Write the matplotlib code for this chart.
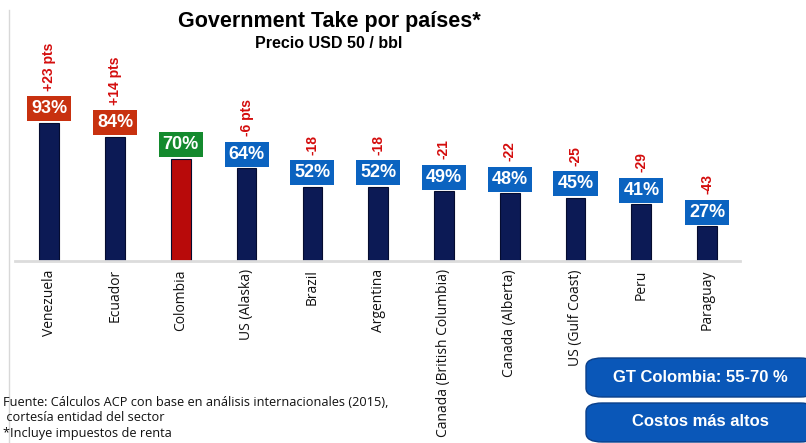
import matplotlib.pyplot as plt
from matplotlib.patches import FancyBboxPatch
from matplotlib.lines import Line2D

paises = ['Venezuela', 'Ecuador', 'Colombia', 'US (Alaska)', 'Brazil', 'Argentina',
          'Canada (British Columbia)', 'Canada (Alberta)', 'US (Gulf Coast)', 'Peru', 'Paraguay']
gt = [93, 84, 70, 64, 52, 52, 49, 48, 45, 41, 27]
dif = ['+23 pts', '+14 pts', '', '-6 pts', '-18', '-18', '-21', '-22', '-25', '-29', '-43']
caja = ['#c8310f', '#c8310f', '#148a2e'] + ['#0b63c0'] * 8
barra = ['#0c1a55', '#0c1a55', '#b80a0a'] + ['#0c1a55'] * 8

bold = ['Liberation Sans', 'DejaVu Sans']

fig = plt.figure(figsize=(8.06, 4.43), dpi=100)
W, H = 806, 443
ax = fig.add_axes([15 / W, 1 - 261 / H, (740 - 15) / W, (261 - 10) / H])

x = range(len(paises))
ax.bar(x, gt, width=0.3, color=barra, edgecolor='#050c30', linewidth=0.8, zorder=2)
ax.set_xlim(-0.52, 10.5)
ax.set_ylim(4.5, 165)

for i, v in enumerate(gt):
    ax.annotate(f'{v}%', (i, v), xytext=(0, 3.8), textcoords='offset points',
                ha='center', va='bottom', color='white', fontsize=13, fontweight='bold',
                family=bold, zorder=4,
                bbox=dict(boxstyle='square,pad=0.22', fc=caja[i], ec='none'))
    if dif[i]:
        ax.annotate(dif[i], (i, v), xytext=(0, 23), textcoords='offset points',
                    ha='center', va='bottom', rotation=90, color='#d40d0d',
                    fontsize=10, fontweight='bold', family=bold)

for s in ['top', 'right', 'left']:
    ax.spines[s].set_visible(False)
ax.spines['bottom'].set_color('#dcdcdc')
ax.spines['bottom'].set_linewidth(2)
ax.set_yticks([])
ax.set_xticks(list(x))
ax.set_xticklabels(paises, rotation=90, fontsize=10, family=['Open Sans', 'DejaVu Sans'], color='#111111')
ax.tick_params(axis='x', length=0, pad=6)

fig.add_artist(Line2D([9 / W, 9 / W], [0, 1 - 10 / H], color='#d8d8d8', lw=1))

fig.text(329 / W, 1 - 22 / H, 'Government Take por países*', ha='center', va='center',
         fontsize=15.5, fontweight='bold', family=bold)
fig.text(329 / W, 1 - 43 / H, 'Precio USD 50 / bbl', ha='center', va='center',
         fontsize=11.5, fontweight='bold', family=bold)

nota = ['Fuente: Cálculos ACP con base en análisis internacionales (2015),',
        ' cortesía entidad del sector',
        '*Incluye impuestos de renta']
for k, t in enumerate(nota):
    fig.text(3 / W, 1 - (402 + 15.5 * k) / H, t, ha='left', va='center', fontsize=9.2,
             family=['Open Sans', 'DejaVu Sans'], color='#111111')

botones = ['GT Colombia: 55-70 %', 'Costos más altos']
for k, t in enumerate(botones):
    y0 = 1 - (397 + 45 * k) / H
    fig.add_artist(FancyBboxPatch((586 / W, y0), 230 / W, 39 / H,
                                  boxstyle='round,pad=0,rounding_size=0.02',
                                  fc='#0a57b8', ec='#0a3f8a', lw=1, transform=fig.transFigure))
    fig.text(700 / W, y0 + 20 / H, t, ha='center', va='center', color='white',
             fontsize=12, fontweight='bold', family=['Liberation Sans Narrow', 'Liberation Sans', 'DejaVu Sans'])

fig.savefig('out.png', dpi=100)
